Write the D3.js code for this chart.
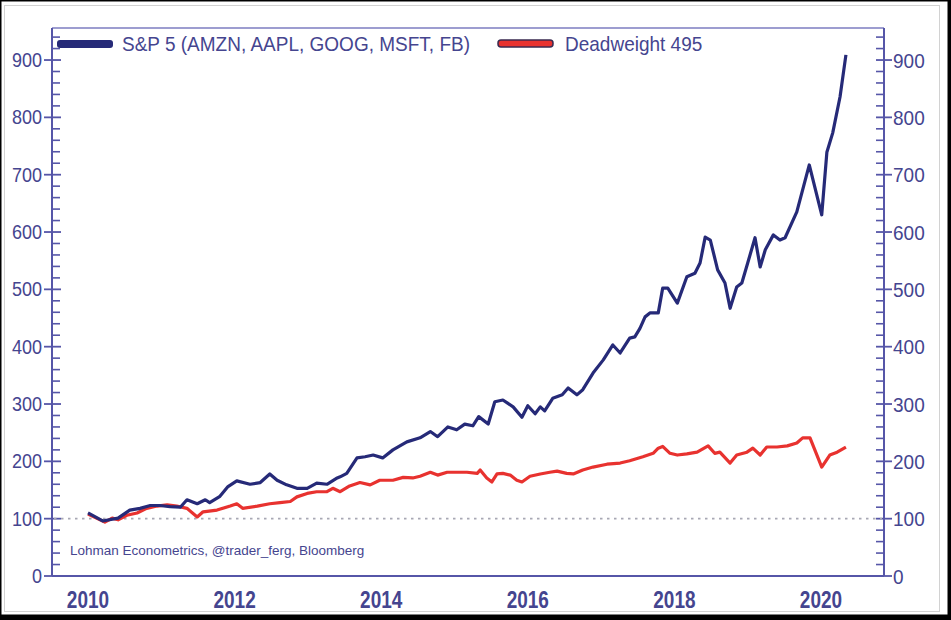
<!DOCTYPE html>
<html><head><meta charset="utf-8">
<script src="https://cdn.jsdelivr.net/npm/d3@7"></script>
<style>html,body{margin:0;padding:0;background:#fff;}svg{display:block;}</style>
</head><body>
<script>
// ---- data ----
const sp5Dates = [2010.00,2010.20,2010.41,2010.57,2010.71,2010.85,2010.98,2011.12,2011.26,2011.35,2011.49,2011.60,2011.66,2011.80,2011.91,2012.03,2012.21,2012.35,2012.48,2012.58,2012.71,2012.85,2012.99,2013.12,2013.26,2013.40,2013.44,2013.53,2013.67,2013.78,2013.89,2014.02,2014.16,2014.35,2014.53,2014.67,2014.77,2014.91,2015.03,2015.14,2015.25,2015.33,2015.46,2015.55,2015.66,2015.80,2015.92,2016.00,2016.10,2016.17,2016.23,2016.34,2016.47,2016.55,2016.67,2016.75,2016.89,2017.03,2017.16,2017.26,2017.39,2017.46,2017.53,2017.60,2017.67,2017.78,2017.84,2017.91,2018.04,2018.17,2018.28,2018.35,2018.42,2018.49,2018.59,2018.69,2018.76,2018.85,2018.92,2019.00,2019.10,2019.17,2019.24,2019.35,2019.44,2019.51,2019.67,2019.84,2020.01,2020.08,2020.16,2020.26,2020.34];
const sp5Values = [110,96,101,115,118,123,123,121,120,133,126,133,128,139,156,166,160,163,178,167,159,153,153,162,160,171,173,179,206,208,211,206,220,234,241,252,243,260,255,265,262,278,265,304,307,295,277,297,283,295,288,310,316,328,316,325,354,377,403,389,415,417,432,452,459,459,502,502,476,522,528,546,591,586,534,511,467,504,511,546,590,539,569,595,586,590,635,717,630,739,773,836,909];
const dwDates = [2010.00,2010.23,2010.33,2010.41,2010.53,2010.67,2010.80,2010.94,2011.08,2011.21,2011.35,2011.49,2011.57,2011.76,2011.94,2012.03,2012.11,2012.31,2012.48,2012.62,2012.76,2012.85,2012.99,2013.12,2013.26,2013.34,2013.44,2013.57,2013.71,2013.85,2013.98,2014.16,2014.30,2014.43,2014.53,2014.67,2014.77,2014.90,2015.17,2015.31,2015.35,2015.44,2015.51,2015.58,2015.66,2015.76,2015.85,2015.92,2016.03,2016.17,2016.30,2016.40,2016.53,2016.62,2016.75,2016.89,2017.08,2017.26,2017.39,2017.57,2017.71,2017.78,2017.84,2017.94,2018.04,2018.17,2018.31,2018.46,2018.55,2018.62,2018.76,2018.85,2018.99,2019.07,2019.17,2019.26,2019.40,2019.54,2019.67,2019.75,2019.85,2020.01,2020.12,2020.22,2020.34];
const dwValues = [108,94,101,98,106,110,118,122,124,122,118,103,112,115,122,126,118,122,126,128,130,138,144,147,147,153,147,157,163,159,167,167,172,171,174,181,176,181,181,179,185,171,164,178,179,176,167,164,174,178,181,183,179,178,185,190,195,197,201,208,214,223,226,214,211,213,216,227,214,216,197,211,216,223,211,225,225,227,232,241,241,190,211,216,225];
const xTickYears = [2010,2012,2014,2016,2018,2020];
const yMajorTicks = [0,100,200,300,400,500,600,700,800,900];
const seriesNames = ["S&P 5 (AMZN, AAPL, GOOG, MSFT, FB)","Deadweight 495"];
const sourceText = "Lohman Econometrics, @trader_ferg, Bloomberg";

// ---- layout ----
const W = 951, H = 620;
const L = 52, R = 884, T = 28, B = 576;
const navy = "#262a78", red = "#e8322f", axisCol = "#5656a8", textCol = "#45458f";

const svg = d3.select("body").append("svg").attr("width", W).attr("height", H)
  .style("font-family", "'Liberation Sans', Arial, sans-serif");

// frame
svg.append("rect").attr("width", W).attr("height", H).attr("fill", "#000");
svg.append("rect").attr("x", 1.5).attr("y", 1.5).attr("width", W - 5).attr("height", H - 7).attr("fill", "#fff");
svg.append("rect").attr("x", 4.5).attr("y", 5.5).attr("width", 935).attr("height", 606)
  .attr("fill", "none").attr("stroke", "#d2d2d2").attr("stroke-width", 1);

const x = d3.scaleLinear().domain([2010 + (L - 88) / 73.3, 2010 + (R - 88) / 73.3]).range([L, R]);
const y = d3.scaleLinear().domain([0, (B - T) / 0.5733]).range([B, T]);

const minorTicks = d3.range(0, 941, 20).filter(v => v % 100 !== 0);

// top frame line
svg.append("line").attr("x1", L).attr("x2", R).attr("y1", T).attr("y2", T)
  .attr("stroke", "#7c7cc0").attr("stroke-width", 1.5);

// left axis
const gL = svg.append("g").attr("transform", `translate(${L},0)`);
gL.append("line").attr("y1", T).attr("y2", B).attr("stroke", axisCol).attr("stroke-width", 2);
gL.selectAll(".mi").data(minorTicks).enter().append("line")
  .attr("x1", 0).attr("x2", 8).attr("y1", d => y(d)).attr("y2", d => y(d))
  .attr("stroke", axisCol).attr("stroke-width", 1.6);
gL.selectAll(".ma").data(yMajorTicks).enter().append("line")
  .attr("x1", -8).attr("x2", 9).attr("y1", d => y(d)).attr("y2", d => y(d))
  .attr("stroke", axisCol).attr("stroke-width", 1.8);
gL.selectAll("text").data(yMajorTicks).enter().append("text")
  .attr("transform", d => `translate(-10,${y(d)}) scale(1,1.1)`).attr("dy", "0.36em").attr("text-anchor", "end")
  .attr("fill", textCol).attr("font-size", 18).text(d => d);

// right axis
const gR = svg.append("g").attr("transform", `translate(${R},0)`);
gR.append("line").attr("y1", T).attr("y2", B).attr("stroke", axisCol).attr("stroke-width", 2);
gR.selectAll(".mi").data(minorTicks).enter().append("line")
  .attr("x1", -8).attr("x2", 0).attr("y1", d => y(d)).attr("y2", d => y(d))
  .attr("stroke", axisCol).attr("stroke-width", 1.6);
gR.selectAll(".ma").data(yMajorTicks).enter().append("line")
  .attr("x1", -8).attr("x2", 8).attr("y1", d => y(d)).attr("y2", d => y(d))
  .attr("stroke", axisCol).attr("stroke-width", 1.8);
gR.selectAll("text").data(yMajorTicks).enter().append("text")
  .attr("transform", d => `translate(9,${y(d)}) scale(1,1.1)`).attr("dy", "0.36em").attr("text-anchor", "start")
  .attr("fill", textCol).attr("font-size", 19).text(d => d);

// bottom axis
svg.append("line").attr("x1", L).attr("x2", R).attr("y1", B).attr("y2", B)
  .attr("stroke", axisCol).attr("stroke-width", 2);
svg.selectAll(".xl").data(xTickYears).enter().append("text")
  .attr("transform", d => `translate(${x(d)},608) scale(1,1.25)`).attr("text-anchor", "middle")
  .attr("fill", textCol).attr("font-size", 19).attr("font-weight", "bold").text(d => d);

// 100 reference line
svg.append("line").attr("x1", L + 2).attr("x2", R - 2).attr("y1", y(100)).attr("y2", y(100))
  .attr("stroke", "#a8a8b4").attr("stroke-width", 1.6).attr("stroke-dasharray", "2.5,4.5");

// lines
const line = d3.line().x(d => x(d[0])).y(d => y(d[1]));
const dw = dwDates.map((d, i) => [d, dwValues[i]]);
const sp = sp5Dates.map((d, i) => [d, sp5Values[i]]);
svg.append("path").datum(dw).attr("d", line).attr("fill", "none")
  .attr("stroke", red).attr("stroke-width", 3.2).attr("stroke-linejoin", "round");
svg.append("path").datum(sp).attr("d", line).attr("fill", "none")
  .attr("stroke", navy).attr("stroke-width", 3.2).attr("stroke-linejoin", "round");

// legend
svg.append("rect").attr("x", 57).attr("y", 40).attr("width", 56).attr("height", 8).attr("rx", 3)
  .attr("fill", navy);
svg.append("text").attr("transform", "translate(122,51) scale(1,1.1)").attr("fill", textCol).attr("font-size", 19).text(seriesNames[0]);
svg.append("rect").attr("x", 498).attr("y", 40).attr("width", 55).attr("height", 7).attr("rx", 3)
  .attr("fill", red).attr("stroke", "#3a2a50").attr("stroke-width", 1.5);
svg.append("text").attr("transform", "translate(565,51) scale(1,1.1)").attr("fill", textCol).attr("font-size", 19).text(seriesNames[1]);

// source
svg.append("text").attr("x", 70).attr("y", 555).attr("fill", textCol).attr("font-size", 13.5).text(sourceText);
</script>
</body></html>
